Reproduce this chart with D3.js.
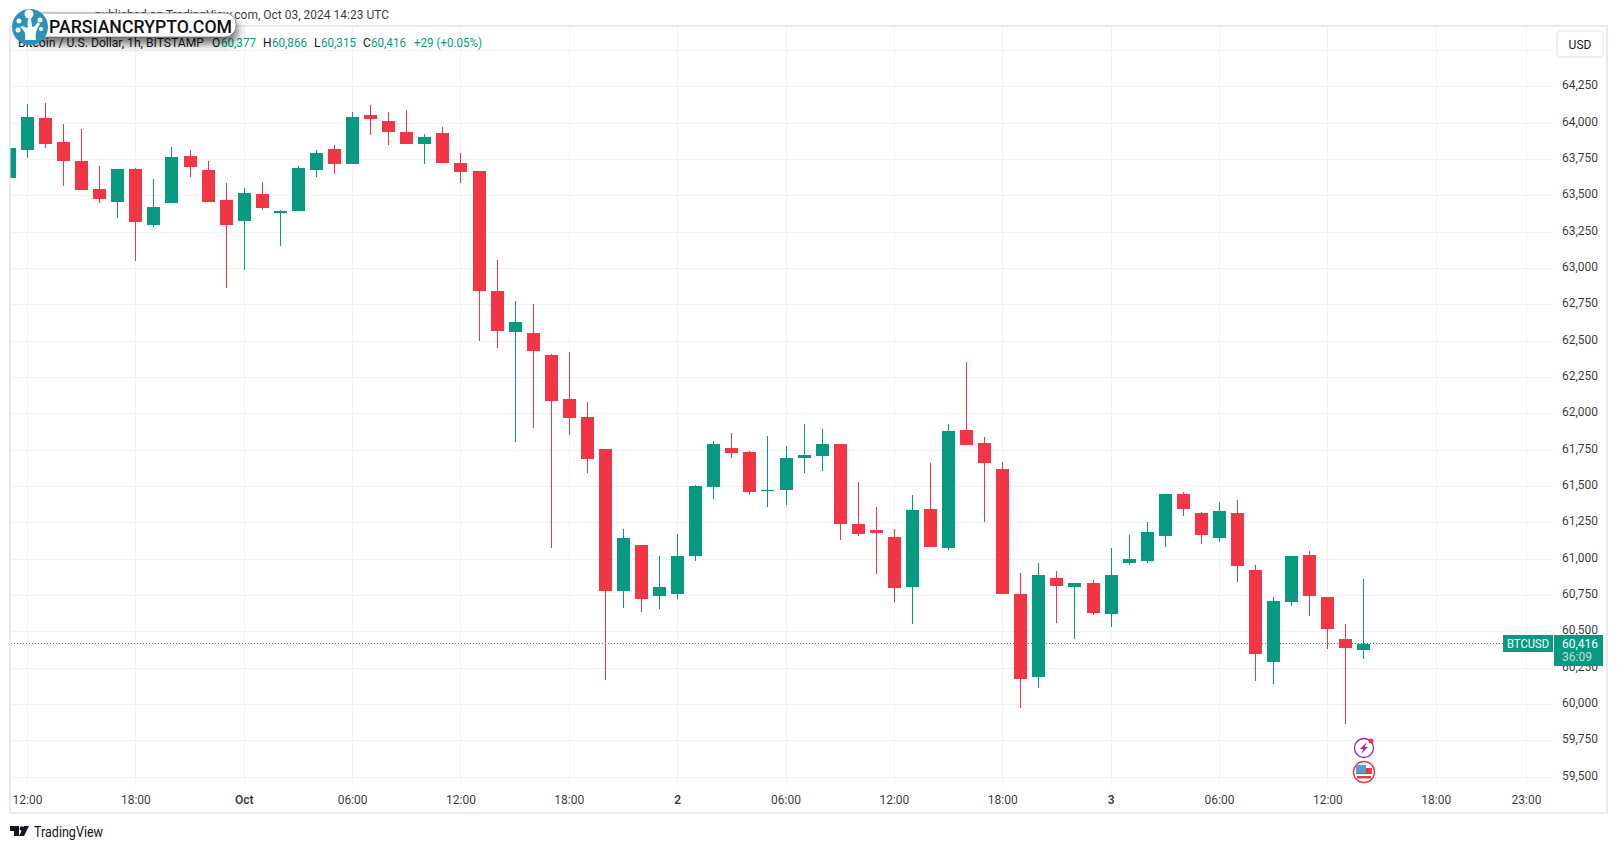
<!DOCTYPE html>
<html><head><meta charset="utf-8">
<script src="https://cdn.jsdelivr.net/npm/d3@7/dist/d3.min.js"></script>
<style>html,body{margin:0;padding:0;background:#fff}svg{display:block}text{font-family:Roboto,"Noto Sans",sans-serif}</style>
</head><body><svg id="c" width="1617" height="849"></svg>
<script>
// Hourly candles, first bar 2024-09-30 11:00 UTC
const opens=[63623,63816,64036,63871,63740,63548,63458,63685,63300,63451,63775,63678,63472,63327,63513,63382,63396,63678,63823,63720,64057,64015,63940,63857,63933,63726,63671,62846,62563,62557,62405,62102,61979,61758,60781,61098,60747,60761,61022,61497,61765,61738,61469,61476,61697,61710,61793,61242,61201,61153,60809,61346,61077,61889,61800,61621,60761,60190,60871,60809,60836,60623,60974,60988,61160,61449,61318,61146,61318,60926,60293,60706,61029,60740,60451,60377];
const highs=[63830,64132,64139,63995,63960,63706,63685,63692,63616,63837,63816,63740,63589,63554,63596,63403,63706,63816,63850,64077,64126,64077,64091,63926,63974,63795,63671,63059,62777,62756,62412,62426,62082,61758,61208,61098,61022,61174,61511,61813,61869,61745,61848,61779,61930,61896,61793,61531,61359,61208,61442,61662,61930,62357,61841,61669,60905,60974,60919,60836,60857,61077,61167,61256,61449,61463,61325,61394,61407,60960,60740,61022,61057,60740,60554,60866];
const lows=[63623,63761,63830,63568,63541,63451,63348,63052,63286,63451,63630,63458,62866,62990,63403,63155,63396,63630,63651,63720,63919,63850,63857,63720,63726,63589,62502,62453,61807,61903,61077,61855,61593,60169,60664,60637,60657,60726,60988,61414,61697,61442,61359,61373,61593,61607,61132,61160,60898,60706,60554,61084,61063,61786,61256,60761,59976,60114,60561,60451,60616,60534,60960,60974,61084,61297,61105,61119,60843,60162,60141,60678,60609,60382,59866,60315];
const closes=[63830,64043,63857,63740,63541,63479,63685,63320,63424,63768,63699,63458,63300,63520,63417,63396,63692,63795,63720,64043,64029,63940,63857,63905,63726,63664,62846,62570,62632,62433,62089,61972,61690,60781,61146,60726,60809,61022,61504,61793,61731,61463,61476,61697,61717,61793,61242,61174,61180,60802,61339,61084,61882,61786,61662,60761,60176,60891,60816,60836,60630,60891,61002,61187,61449,61346,61167,61332,60953,60348,60713,61022,60747,60520,60387,60416];
const firstBarHour=-1;
const priceTicks=[59500,59750,60000,60250,60500,60750,61000,61250,61500,61750,62000,62250,62500,62750,63000,63250,63500,63750,64000,64250,64500];
const timeTickHours=[0,6,12,18,24,30,36,42,48,54,60,66,72,78,83];
const timeTickLabels=["12:00","18:00","Oct","06:00","12:00","18:00","2","06:00","12:00","18:00","3","06:00","12:00","18:00","23:00"];
const boldTicks=["Oct","2","3"];
const lastPrice=60416;
const titleText="published on TradingView.com, Oct 03, 2024 14:23 UTC";
const symbolText="Bitcoin / U.S. Dollar, 1h, BITSTAMP";
const ohlcLetters=["O","H","L","C"];
const ohlcValues=["60,377","60,866","60,315","60,416"];
const changeText="+29 (+0.05%)";

const UP="#089981",DOWN="#F23645",GRID="#f1f2f4",INK="#131722",FRAME="#e9ebf2";
const svg=d3.select("#c");
const L=10.5,R=1553,T=26,B=785;
const y=d3.scaleLinear().domain([59500,64000]).range([777.3,123.3]);
const x=d3.scaleLinear().domain([0,83]).range([27.5,1526.5]);

const defs=svg.append("defs");
defs.append("clipPath").attr("id","pane").append("rect").attr("x",L).attr("y",T).attr("width",R-L).attr("height",B-T);
const blur=defs.append("filter").attr("id","sh").attr("x","-20%").attr("y","-60%").attr("width","140%").attr("height","240%");
blur.append("feGaussianBlur").attr("stdDeviation",4);

// frame
svg.append("rect").attr("x",10).attr("y",26).attr("width",1597).attr("height",787).attr("fill","#fff").attr("stroke",FRAME).attr("stroke-width",2);

// price axis with gridlines
const gy=svg.append("g").attr("transform",`translate(${R},0)`).call(
  d3.axisRight(y).offset(0).tickValues(priceTicks).tickSize(0).tickPadding(9).tickFormat(d=>d===64500?"":d3.format(",")(d)));
gy.select(".domain").remove();
gy.selectAll("text").attr("font-size",12).attr("fill",INK).attr("fill-opacity",.88).attr("font-family",'Roboto,sans-serif').attr("dy",".2em");
gy.selectAll(".tick line").attr("x1",L-R).attr("x2",0).attr("stroke",GRID).attr("shape-rendering","crispEdges");

// time axis with gridlines
const gx=svg.append("g").attr("transform",`translate(0,${B})`).call(
  d3.axisBottom(x).offset(0).tickValues(timeTickHours).tickSize(0).tickPadding(10).tickFormat((d,i)=>timeTickLabels[i]));
gx.select(".domain").remove();
gx.selectAll("text").attr("font-size",12).attr("fill",INK).attr("fill-opacity",.88).attr("font-family",'Roboto,sans-serif')
  .attr("font-weight",(d,i)=>boldTicks.includes(timeTickLabels[i])?600:400);
gx.selectAll(".tick line").attr("y1",T-B).attr("y2",0).attr("stroke",GRID).attr("shape-rendering","crispEdges");

// candles
const bars=opens.map((o,i)=>({hour:firstBarHour+i,o,h:highs[i],l:lows[i],c:closes[i]}));
const pane=svg.append("g").attr("clip-path","url(#pane)");
const col=d=>d.c>=d.o?UP:DOWN;
const bx=d=>Math.round(x(d.hour)-6.5);
const priceRow=Math.floor(y(lastPrice))-1+.5;
pane.append("line").attr("x1",11).attr("x2",1503).attr("y1",priceRow).attr("y2",priceRow)
  .attr("stroke",UP).attr("stroke-dasharray","1 2");
pane.selectAll("line.w").data(bars).join("line").attr("class","w")
  .attr("x1",d=>bx(d)+6.5).attr("x2",d=>bx(d)+6.5).attr("y1",d=>Math.round(y(d.h))).attr("y2",d=>Math.round(y(d.l)))
  .attr("stroke",col).attr("shape-rendering","crispEdges");
pane.selectAll("rect.b").data(bars).join("rect").attr("class","b")
  .attr("x",bx).attr("width",13)
  .attr("y",d=>Math.round(y(Math.max(d.o,d.c))))
  .attr("height",d=>Math.max(1,Math.round(y(Math.min(d.o,d.c)))-Math.round(y(Math.max(d.o,d.c)))))
  .attr("fill",col).attr("shape-rendering","crispEdges");

// last price labels
svg.append("rect").attr("x",1503).attr("y",635).attr("width",50).attr("height",17).attr("fill",UP);
svg.append("text").attr("x",1507).attr("y",648).attr("textLength",42).attr("lengthAdjust","spacingAndGlyphs").attr("font-size",12).attr("fill","#fff").text("BTCUSD");
svg.append("rect").attr("x",1554).attr("y",635).attr("width",49).attr("height",31).attr("fill",UP);
svg.append("text").attr("x",1562).attr("y",648).attr("font-size",12).attr("fill","#fff").text(d3.format(",")(lastPrice));
svg.append("text").attr("x",1562).attr("y",661).attr("font-size",12).attr("fill","#fff").attr("fill-opacity",.72).text("36:09");

// USD button
svg.append("rect").attr("x",1557).attr("y",31).attr("width",46).attr("height",26).attr("rx",4).attr("fill","#fff").attr("stroke",FRAME).attr("stroke-width",1.5);
svg.append("text").attr("x",1580).attr("y",48.5).attr("text-anchor","middle").attr("font-size",12).attr("fill",INK).text("USD");

// header
svg.append("text").attr("x",389).attr("y",19).attr("text-anchor","end").attr("font-size",12).attr("fill",INK).attr("fill-opacity",.88).text(titleText);
const legend=svg.append("g").attr("font-size",12);
const legendY=47;
legend.append("text").attr("x",18).attr("y",legendY).attr("textLength",186).attr("lengthAdjust","spacingAndGlyphs").attr("fill",INK).text(symbolText);
const letterX=[212,263,314,363];
const valueX=[221,272,321,371];
ohlcLetters.forEach((t,i)=>legend.append("text").attr("x",letterX[i]).attr("y",legendY).attr("fill",INK).text(t));
ohlcValues.forEach((t,i)=>legend.append("text").attr("x",valueX[i]).attr("y",legendY).attr("textLength",35).attr("lengthAdjust","spacingAndGlyphs").attr("fill",UP).text(t));
legend.append("text").attr("x",414).attr("y",legendY).attr("textLength",68).attr("lengthAdjust","spacingAndGlyphs").attr("fill",UP).text(changeText);

// watermark badge
const badge=svg.append("g");
badge.append("rect").attr("x",22).attr("y",18).attr("width",216).attr("height",26).attr("rx",12).attr("fill","#000").attr("opacity",.55).attr("filter","url(#sh)");
badge.append("rect").attr("x",30).attr("y",13).attr("width",206).attr("height",24).attr("rx",11).attr("fill","#fff").attr("stroke","#555").attr("stroke-width",.6);
badge.append("circle").attr("cx",30).attr("cy",27).attr("r",18).attr("fill","#2b93ba");
badge.append("path").attr("d","M25 40 C26 33 25 31 20 27 L23 26 C26 28 27 28 28 27 C27 22 28 20 29 18 L31 18 C31 21 32 24 32 27 C34 27 36 25 38 22 L40 24 C37 29 35 32 36 40 Z").attr("fill","#fff");
[[29,14,4.5],[19,21,2.5],[18,30,2.5],[40,20,2.5],[41,29,2]].forEach(c=>badge.append("circle").attr("cx",c[0]).attr("cy",c[1]).attr("r",c[2]).attr("fill","#fff"));
badge.append("text").attr("x",49).attr("y",33).attr("font-size",18).attr("font-weight",500).attr("textLength",183).attr("lengthAdjust","spacingAndGlyphs").attr("fill","#111").text("PARSIANCRYPTO.COM");

// event markers
const cx=x(74);
const ev=svg.append("g");
ev.append("circle").attr("cx",cx).attr("cy",748).attr("r",9.5).attr("fill","#fff").attr("stroke","#9c27b0").attr("stroke-width",1.3);
ev.append("path").attr("d",`M${cx+3} ${742} L${cx-4} ${749} L${cx-.5} ${749} L${cx-3} ${754} L${cx+4} ${747} L${cx+.5} ${747} Z`).attr("fill","#9c27b0");
ev.append("circle").attr("cx",cx+7).attr("cy",741).attr("r",2.5).attr("fill",DOWN);
const fy=772;
ev.append("circle").attr("cx",cx).attr("cy",fy).attr("r",10.5).attr("fill","#fff").attr("stroke",DOWN).attr("stroke-width",1.4);
ev.append("rect").attr("x",cx-8).attr("y",fy-5).attr("width",16).attr("height",2).attr("fill","#fff");
ev.append("rect").attr("x",cx-8).attr("y",fy-4).attr("width",16).attr("height",6).attr("fill",DOWN);
ev.append("rect").attr("x",cx-8).attr("y",fy+2).attr("width",16).attr("height",2).attr("fill","#fff");
ev.append("rect").attr("x",cx-7).attr("y",fy+4).attr("width",14).attr("height",2.5).attr("fill",DOWN);
ev.append("rect").attr("x",cx-8).attr("y",fy-7).attr("width",10).attr("height",8).attr("fill","#4ba3c7");

// footer brand
svg.append("path").attr("d","M10 826 H19 V836 H14 V831 H10 Z M29 826 L24 836 H19 L24 826 Z").attr("fill",INK);
svg.append("circle").attr("cx",21.8).attr("cy",828.5).attr("r",2.2).attr("fill",INK);
svg.append("text").attr("x",34).attr("y",837).attr("font-size",14).attr("textLength",69).attr("lengthAdjust","spacingAndGlyphs").attr("fill",INK).text("TradingView");
</script></body></html>
